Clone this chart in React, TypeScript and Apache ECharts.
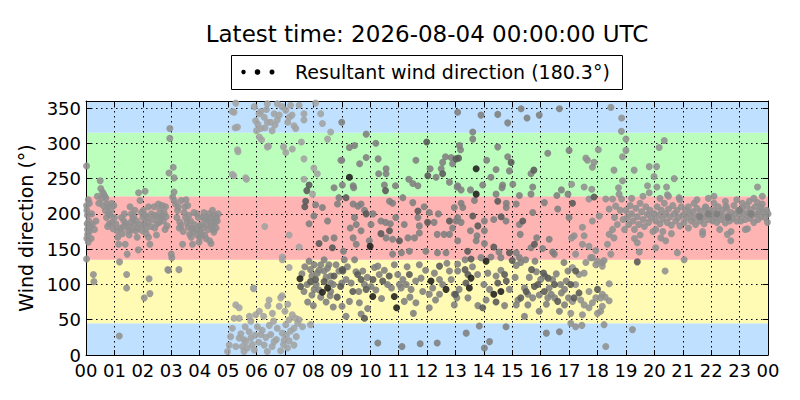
import React, { useEffect, useRef } from "react";
import * as echarts from "echarts";

const titleText = "Latest time: 2026-08-04 00:00:00 UTC";
const legendText = "Resultant wind direction (180.3°)";
const yName = "Wind direction (°)";
const hourLabels = ["00","01","02","03","04","05","06","07","08","09","10","11","12","13","14","15","16","17","18","19","20","21","22","23","00"];
const bandEdges = [0, 45, 135, 225, 315, 360];
const bandColors = ["#bfe0ff", "#fffbb4", "#ffb4b4", "#bcffbc", "#bfe0ff"];

// [hour, degrees]
const grayPts: number[][] = [
[0.02,268],[0.02,212],[0.03,205],[0.05,198],[0.04,186],[0.05,178],[0.06,171],[0.03,165],[0.02,136],[0.08,220],[0.1,190],[0.12,215],[0.15,182],[0.2,200],[0.26,114],[0.28,104],
[0.5,247],[0.52,236],[0.58,231],[0.62,228],[0.66,225],[0.7,222],[0.74,214],[0.78,210],[0.8,200],[0.85,198],[0.82,186],[0.92,188],[0.95,179],[0.98,212],[1.0,195],
[1.05,186],[1.1,176],[1.12,167],[1.15,157],[1.18,132],[1.17,27],[1.25,195],[1.3,181],[1.35,200],[1.4,186],[1.43,114],[1.43,95],[1.45,143],[1.38,157],[1.5,176],[1.55,210],[1.6,200],[1.65,193],[1.7,186],[1.75,176],[1.8,167],[1.84,149],[1.9,219],[1.95,202],[1.85,230],
[2.0,195],[2.05,186],[2.1,179],[2.15,195],[2.2,210],[2.22,108],[2.25,87],[2.05,81],[2.08,232],[2.12,172],[2.2,167],[2.25,157],[2.3,200],[2.4,210],[2.45,198],[2.5,186],[2.55,214],[2.6,205],[2.65,195],[2.7,198],[2.75,202],[2.8,210],[2.85,183],[2.88,121],[2.9,120],
[2.95,321],[2.95,307],[3.07,266],[2.92,258],[3.1,251],[3.1,231],[3.0,143],[3.02,138],[3.27,121],[3.05,224],[3.1,219],[3.15,214],[3.25,210],[3.35,219],[3.4,157],[3.45,202],[3.5,195],[3.55,188],[3.6,181],[3.65,171],[3.7,167],[3.75,157],[3.8,202],[3.2,195],[3.3,188],[3.35,183],
[3.9,200],[3.95,195],[4.0,183],[4.05,171],[4.0,167],[4.1,195],[4.15,202],[4.2,193],[4.25,185],[4.3,178],[4.35,162],[4.4,158],[4.45,205],[4.5,198],[4.55,190],[4.6,195],[4.65,200],[4.5,174],[4.4,188],
[1.2,180],[1.28,172],[1.33,190],[1.48,182],[1.52,170],[1.58,188],[1.62,178],[1.68,196],[1.72,205],[1.78,190],[1.82,180],[1.92,185],[1.98,176],[2.02,205],[2.08,198],[2.18,188],[2.28,182],[2.35,192],[2.42,180],[2.48,170],[2.52,196],[2.58,188],[2.68,212],[2.72,190],[2.78,178],[2.82,196],[3.22,205],[3.28,180],[3.42,175],[3.48,210],[3.52,220],[3.58,212],[3.62,198],[3.68,190],[3.72,180],[3.78,175],[3.82,185],[3.88,178],[3.92,170],[3.98,160],[4.02,175],[4.08,185],[4.12,180],[4.18,170],[4.22,165],[4.28,192],[4.32,200],[4.38,195],[4.42,182],[4.48,178],[4.52,186],[4.58,180],[4.62,190],[0.3,178],[0.35,190],[0.4,225],[0.45,215],[0.55,222],[0.6,212],[0.68,205],[0.72,195],[0.76,182],[0.88,205],[0.9,215],[0.18,165],[0.22,185],[0.12,175],[0.08,160],
[18.47,351],[18.85,336],[18.84,317],[19.0,306],[19.0,290],[18.88,281],[18.03,291],[17.59,279],[17.65,276],[17.88,273],[17.82,266],[18.58,262],[19.29,262],[19.82,267],[20.08,267],[19.99,253],[20.35,304],[20.17,294],[20.7,250],[23.63,238],[17.09,242],[17.53,238],[17.8,235],[18.88,247],[18.74,237],[19.76,240],[20.09,238],[20.43,238],[19.82,230],[20.46,227],
[17.7,221],[18.29,221],[18.53,221],[18.76,228],[18.85,221],[18.64,211],[18.41,207],[18.06,197],[17.82,190],[17.47,181],[17.18,169],[17.09,166],[17.53,169],[17.47,157],[17.7,154],[18.53,178],[18.41,171],[18.58,166],[18.35,157],[18.47,143],[17.23,143],[17.94,148],[17.82,138],[17.59,131],[18.23,134],[18.0,133],[18.17,126],[19.4,159],[19.47,146],[20.05,152],[20.05,178],[20.23,166],[20.4,162],[20.81,145],[21.05,135],[20.38,119],[22.69,162],
[20.87,223],[21.81,209],[22.1,215],[22.52,211],[23.1,215],[23.34,218],[23.63,216],[23.75,209],[21.7,171],[23.28,179],[22.57,171],[19.23,36],[18.29,12],
[17.35,114],[17.12,124],[17.23,100],[17.12,76],[17.41,78],[17.7,90],[17.53,71],[17.7,67],[17.82,74],[17.94,81],[18.11,81],[18.17,86],[18.27,82],[18.41,77],[18.17,69],[18.11,62],[18.41,101],[18.0,59],[17.47,57],[17.06,59],[17.06,45],[17.23,40],[17.45,42],[18.23,43],[17.76,138],[17.94,128],[17.53,116],[18.17,131],
[18.6,195],[18.7,185],[18.8,205],[18.9,192],[18.95,178],
[19.0,205],[19.05,195],[19.1,185],[19.15,212],[19.2,200],[19.25,190],[19.3,178],[19.35,208],[19.4,196],[19.45,185],[19.5,215],[19.55,203],[19.6,192],[19.65,182],[19.7,210],[19.75,199],[19.8,188],[19.85,205],[19.9,195],[19.95,175],[19.5,170],[19.3,165],[19.6,225],[19.2,222],
[20.0,200],[20.05,190],[20.1,210],[20.15,198],[20.2,186],[20.25,205],[20.3,193],[20.35,215],[20.4,200],[20.45,188],[20.5,207],[20.55,196],[20.6,184],[20.65,212],[20.7,200],[20.75,190],[20.8,205],[20.85,195],[20.9,183],[20.95,210],[20.3,175],[20.6,172],[20.9,220],[20.2,222],[20.5,225],
[21.0,198],[21.05,188],[21.1,205],[21.15,195],[21.2,210],[21.25,200],[21.3,190],[21.35,203],[21.4,194],[21.45,185],[21.5,208],[21.55,198],[21.6,190],[21.65,204],[21.7,195],[21.75,186],[21.8,210],[21.85,200],[21.9,192],[21.95,205],[21.4,215],[21.7,175],[21.2,180],[21.9,222],[21.5,220],
[22.0,198],[22.05,190],[22.1,205],[22.15,195],[22.2,188],[22.25,210],[22.3,200],[22.35,192],[22.4,205],[22.45,196],[22.5,187],[22.55,208],[22.6,198],[22.65,190],[22.7,202],[22.75,194],[22.8,212],[22.85,200],[22.9,190],[22.95,205],[22.1,225],[22.3,178],[22.7,175],[22.9,220],[22.5,218],
[23.0,198],[23.05,190],[23.1,208],[23.15,200],[23.2,192],[23.25,212],[23.3,202],[23.35,194],[23.4,206],[23.45,198],[23.5,188],[23.55,210],[23.6,200],[23.65,192],[23.7,204],[23.75,196],[23.8,214],[23.85,202],[23.9,195],[23.95,205],[23.2,178],[23.5,222],[23.8,225],[24.0,200],[23.98,188]
];

const lightPts: number[][] = [
[5.27,357],[5.21,344],[5.33,323],[5.97,332],[6.09,342],[6.27,337],[6.38,330],[6.15,321],[6.62,342],[6.73,356],[6.73,333],[7.2,354],[7.15,337],[7.32,325],[7.38,321],[7.67,342],[7.67,333],[8.26,342],[8.32,328],[8.61,316],[8.08,357],[6.38,356],[7.03,347],[7.5,354],
[5.15,345],[5.25,322],[5.35,288],[5.2,254],[5.65,249],[5.9,94],
[6.05,327],[6.1,309],[6.18,305],[6.3,322],[6.42,296],[6.5,330],[5.92,352],[6.0,318],[6.15,345],[6.35,348],[6.55,318],[6.65,326],[6.8,340],[6.9,352],[7.1,330],[7.25,340],
[5.33,291],[6.38,295],[6.95,295],[7.26,292],[7.03,287],[7.58,302],[7.67,278],[8.02,265],[8.14,257],[5.15,256],[5.62,251],[7.67,249],[7.97,228],[8.5,306],[8.96,276],
[6.29,182],[7.15,170],[7.5,153],[6.91,139],[6.91,135],[7.15,124],
[5.89,95],[6.44,78],[6.85,81],[6.8,69],[6.56,59],[5.27,71],[5.39,67],[5.21,52],[5.39,52],[5.8,48],[5.97,57],[5.15,38],[5.09,26],[5.04,14],[4.98,5],[5.39,24],[5.5,12],[5.62,19],[5.8,24],[5.74,33],[6.03,40],[6.15,29],[6.27,14],[6.38,5],[6.5,29],[6.62,19],[6.73,38],[6.91,31],[7.03,43],[7.15,50],[7.26,57],[7.38,52],[7.5,50],[7.32,38],[6.97,21],[7.09,10],[6.85,6],[7.32,14],[7.62,40],[7.9,43],[5.56,5],[5.92,7],[5.27,12],[5.45,30],[5.55,22],[5.68,10],[5.85,15],[5.95,28],[6.08,18],[6.2,35],[6.33,25],[6.45,42],[6.55,12],[6.6,48],[6.7,22],[6.95,15],[7.05,28],[7.15,20],[7.2,34],[7.4,26],[7.45,45],[5.6,40],[5.75,55],[6.1,62],[6.25,55],[6.4,70],[7.0,62],[7.1,72],[6.9,84]
];

const midPts: number[][] = [
[8.73,237],[9.02,241],[8.08,213],[8.32,209],[8.02,197],[7.85,186],[8.5,190],[8.43,165],[8.73,166],[8.9,223],[8.85,214],[7.85,133],[7.9,121],[8.03,128],[8.14,116],[8.26,128],[8.38,135],[8.38,119],[8.5,123],[8.61,112],[8.61,102],[7.78,100],[7.67,90],[8.03,93],[8.61,90],[8.9,119],[8.26,82],[8.59,84],
[7.6,115],[7.7,125],[7.95,112],[8.1,100],[8.2,92],[8.45,110],[8.55,128],[8.7,100],[8.8,128],[7.8,75],[8.0,70],[8.45,75],[8.7,68],[8.2,120],[7.95,85],
[9.0,330],[9.86,313],[9.45,297],[9.27,294],[10.2,300],[9.0,276],[9.63,271],[10.28,278],[9.4,240],[9.42,237],[10.56,264],[10.56,257],[10.3,257],[10.5,241],[10.89,240],[11.61,276],[11.36,249],[11.5,243],[11.68,240],[12.11,264],[12.32,252],[12.5,264],[12.55,273],[12.65,281],[12.85,280],[12.9,271],[12.79,245],[13.08,240],[9.86,280],
[9.4,214],[9.57,211],[9.68,214],[10.1,200],[9.45,195],[9.51,185],[9.68,176],[9.4,166],[10.03,185],[10.38,190],[10.54,188],[10.71,186],[10.56,166],[10.79,164],[10.68,218],[10.79,215],[11.15,223],[11.5,216],[11.68,195],[11.73,183],[11.73,173],[11.56,166],[11.33,166],[12.08,202],[12.25,188],[12.36,171],[12.6,171],[12.79,171],[12.96,209],[13.02,190],[9.97,162],[9.51,157],[9.06,147],[11.1,145],[10.79,143],[11.38,147],[11.96,147],[12.37,145],[12.67,145],
[9.09,135],[9.45,135],[9.15,107],[9.0,102],[9.33,102],[9.74,119],[9.8,100],[10.03,97],[10.15,124],[10.27,126],[10.32,114],[10.61,100],[10.85,128],[10.97,114],[11.03,100],[11.09,95],[11.15,107],[11.27,100],[11.44,93],[11.52,59],[11.73,128],[11.79,109],[11.85,90],[12.08,86],[12.08,67],[12.26,116],[12.44,107],[12.44,86],[12.55,100],[12.79,119],[12.85,107],[12.96,86],[13.08,119],[9.01,69],[9.27,76],[9.62,74],[9.91,66],[11.2,76],[11.61,74],[12.96,71],[9.15,55],[9.68,58],
[10.27,17],[11.12,12],[11.76,16],[12.36,17],
[9.2,125],[9.5,118],[9.9,110],[10.2,92],[10.5,120],[10.75,95],[11.3,125],[11.6,105],[11.95,120],[12.2,95],[12.7,130],[9.6,90],[10.4,80],[11.4,82],[12.3,78],
[9.3,180],[9.8,205],[10.9,195],[11.2,185],[11.9,210],[12.4,200],[12.9,180],
[13.08,344],[13.9,340],[14.49,341],[15.31,349],[15.52,336],[15.95,340],[14.84,329],[16.66,349],[13.61,316],[13.61,306],[13.14,297],[13.18,291],[14.49,295],[14.1,276],[14.43,263],[14.84,281],[14.9,261],[15.66,257],[16.25,286],[17.0,290],[14.25,252],[13.96,241],[14.66,241],[14.64,237],[15.02,242],[13.06,238],[13.2,234],[13.53,234],[14.43,228],[15.25,226],[15.66,228],[15.72,238],[16.57,226],[16.73,234],[16.96,228],
[13.2,215],[13.26,209],[13.67,219],[14.79,215],[14.79,209],[15.14,214],[16.13,216],[16.6,207],[13.08,195],[14.02,190],[14.35,192],[14.78,190],[15.25,185],[15.72,202],[13.2,188],[13.53,176],[14.02,176],[13.76,169],[13.73,162],[15.28,171],[15.86,166],[16.3,164],[13.08,162],[14.02,158],[14.53,146],[15.14,145],[15.66,152],[16.07,151],[16.42,146],[16.48,143],[17.0,195],
[13.08,129],[13.34,135],[13.9,138],[14.25,139],[14.6,138],[15.14,127],[15.25,138],[15.3,131],[15.47,135],[15.8,133],[16.42,107],[16.82,131],[16.96,119],[13.13,93],[13.05,81],[13.44,81],[13.78,114],[14.14,116],[14.43,112],[14.9,93],[14.2,93],[14.08,78],[14.73,70],[13.79,70],[15.14,71],[15.2,78],[15.43,95],[15.55,86],[15.55,71],[15.72,81],[16.0,107],[16.25,81],[16.37,86],[16.49,81],[16.73,88],[16.84,93],[16.84,71],[16.98,81],[15.43,55],[15.95,62],[16.66,62],[16.15,112],
[13.38,31],[13.84,41],[14.78,40],[14.2,19],[14.02,10],[16.2,31],[16.66,33],
[15.6,110],[15.85,118],[16.3,95],[16.55,115],[16.7,100],[16.9,105],[15.95,85],[16.2,72],[13.6,125],[14.0,100],[14.6,120],[15.1,110],
[21.6,196],[22.2,200],[22.6,195],[23.0,205],[23.4,200],[21.9,200]
];

const darkPts: number[][] = [
[7.85,241],[7.77,233],[7.73,218],[7.7,210],[8.2,158],[8.67,152],[8.08,107],[7.9,104],[7.55,97],[8.38,104],[8.73,112],[8.96,97],[9.02,121],[8.84,82],
[10.54,233],[11.99,302],[12.03,254],[12.55,257],[13.02,278],[9.15,223],[9.86,200],[10.68,176],[10.38,172],[11.03,162],[11.68,204],[12.79,190],[12.02,188],[9.04,119],[9.39,90],[9.56,114],[9.68,107],[9.86,93],[10.1,107],[10.44,105],[10.67,112],[11.38,114],[12.44,126],[9.8,52],
[13.11,279],[14.96,273],[15.76,262],[14.49,218],[13.61,197],[14.61,196],[15.37,190],[13.79,183],[13.43,147],[14.35,153],[14.9,145],[15.78,157],[13.55,136],[15.0,134],[15.68,121],[16.1,116],[16.26,109],[13.34,121],[13.44,114],[13.37,102],[13.0,86],[14.49,102],[14.73,114],[14.79,105],[14.43,75],[13.96,67],[15.3,81],[15.49,90],[15.78,97],[15.9,100],[16.13,90],[16.49,100],[16.6,76],
[17.23,119],[17.06,100],[17.35,88],[17.18,81],[18.0,93],[17.12,215],[17.88,224],[19.4,132]
];

const blackPts: number[][] = [
[7.53,108],[8.32,89],[8.5,95],
[9.27,252],[10.0,154],[10.09,83],[10.85,83],[10.93,67],[12.14,105],[12.67,93],
[13.73,264],[13.73,228],[14.08,133],[13.55,109],[13.49,95],[14.6,90],[14.35,86]
];

const FONT = "DejaVu Sans";

export default function App() {
  const ref = useRef<HTMLDivElement>(null);
  useEffect(() => {
    if (!ref.current) return;
    const chart = echarts.init(ref.current, undefined, { renderer: "svg" });
    const bandData = bandColors.map((c, i) => [bandEdges[i], bandEdges[i + 1], i]);
    const scatter = (data: number[][], color: string, z: number) => ({
      type: "scatter",
      data,
      symbol: "circle",
      symbolSize: 7,
      itemStyle: { color, opacity: 0.88 },
      z,
      silent: true,
    });
    const tickCommon = { inside: true, length: 5, lineStyle: { color: "#000", width: 1 } };
    const lineCommon = { show: true, onZero: false, lineStyle: { color: "#000", width: 1 } };
    chart.setOption({
      animation: false,
      backgroundColor: "#fff",
      grid: { left: 86, right: 32, top: 101, bottom: 45, containLabel: false },
      xAxis: [
        {
          type: "value", min: 0, max: 24, interval: 1, z: 1,
          axisLine: lineCommon, axisTick: tickCommon,
          axisLabel: { color: "#000", fontSize: 18, fontFamily: FONT, margin: 6, formatter: (v: number) => hourLabels[Math.round(v)] },
          splitLine: { show: true, lineStyle: { color: "#000", width: 1, type: [1.5, 3.5] } },
        },
        {
          type: "value", min: 0, max: 24, interval: 1, position: "top", z: 1,
          axisLine: lineCommon, axisTick: tickCommon, axisLabel: { show: false }, splitLine: { show: false },
        },
      ],
      yAxis: [
        {
          type: "value", min: 0, max: 360, interval: 50, z: 1,
          name: yName, nameLocation: "middle", nameGap: 50, nameRotate: 90,
          nameTextStyle: { color: "#000", fontSize: 19, fontFamily: FONT },
          axisLine: lineCommon, axisTick: tickCommon,
          axisLabel: { color: "#000", fontSize: 18, fontFamily: FONT, margin: 5, formatter: (v: number) => (v === 360 ? "" : String(v)) },
          splitLine: { show: true, lineStyle: { color: "#000", width: 1, type: [1.5, 3.5] } },
        },
        {
          type: "value", min: 0, max: 360, interval: 50, position: "right", z: 1,
          axisLine: lineCommon, axisTick: tickCommon, axisLabel: { show: false }, splitLine: { show: false },
        },
      ],
      series: [
        {
          type: "custom",
          data: bandData,
          z: 0,
          silent: true,
          renderItem: (params: any, api: any) => {
            const lo = api.value(0);
            const hi = api.value(1);
            const idx = api.value(2);
            const p1 = api.coord([0, hi]);
            const p2 = api.coord([24, lo]);
            return {
              type: "rect",
              shape: { x: p1[0], y: p1[1], width: p2[0] - p1[0], height: p2[1] - p1[1] },
              style: { fill: bandColors[idx] },
            };
          },
        },
        scatter(grayPts, "#8f8f8f", 2),
        scatter(lightPts, "#a2a2a2", 3),
        scatter(midPts, "#7e7e7e", 4),
        scatter(darkPts, "#585858", 5),
        scatter(blackPts, "#1c1c1c", 6),
      ],
      graphic: [
        { type: "text", x: 427, y: 34, style: { text: titleText, fill: "#000", fontSize: 23, fontFamily: FONT, align: "center", verticalAlign: "middle" } },
        { type: "rect", shape: { x: 231.5, y: 55.5, width: 391, height: 34 }, style: { fill: "#fff", stroke: "#000", lineWidth: 1 } },
        { type: "circle", shape: { cx: 243.5, cy: 72, r: 2.2 }, style: { fill: "#000" } },
        { type: "circle", shape: { cx: 257.5, cy: 72, r: 2.8 }, style: { fill: "#000" } },
        { type: "circle", shape: { cx: 272, cy: 72, r: 2.5 }, style: { fill: "#000" } },
        { type: "text", x: 295, y: 72, style: { text: legendText, fill: "#000", fontSize: 19, fontFamily: FONT, align: "left", verticalAlign: "middle" } },
      ],
    });
    return () => chart.dispose();
  }, []);
  return <div ref={ref} style={{ position: "fixed", left: 0, top: 0, width: 800, height: 400 }} />;
}
